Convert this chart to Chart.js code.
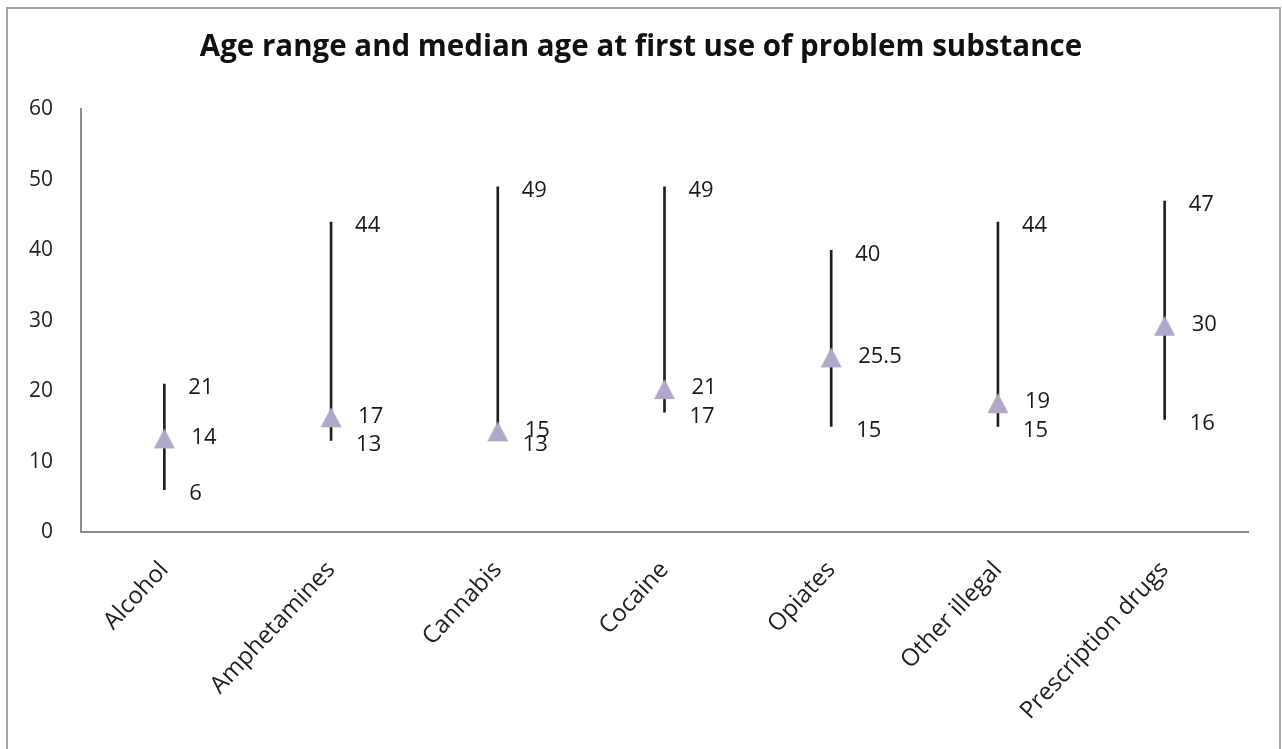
<!DOCTYPE html>
<html>
<head>
<meta charset="utf-8">
<script src="https://cdn.jsdelivr.net/npm/chart.js@4.4.1/dist/chart.umd.min.js"></script>
<style>
  html, body { margin: 0; padding: 0; background: #fff; }
  #frame { position: absolute; left: 6px; top: 7px; width: 1271px; height: 760px; border: 2px solid #a6a6a6; }
  #wrap { position: absolute; left: 0; top: 0; width: 1282px; height: 749px; }
</style>
</head>
<body>
<div id="frame"></div>
<div id="wrap"><canvas id="ageChart" width="1282" height="749"></canvas></div>
<script>
const substances = ['Alcohol', 'Amphetamines', 'Cannabis', 'Cocaine', 'Opiates', 'Other illegal', 'Prescription drugs'];
const minAge = [6, 13, 13, 17, 15, 15, 16];
const maxAge = [21, 44, 49, 49, 40, 44, 47];
const medianAge = [14, 17, 15, 21, 25.5, 19, 30];
const yTicks = [0, 10, 20, 30, 40, 50, 60];

const textFont = '"Open Sans", "Noto Sans", sans-serif';

// Excel-style triangle marker, sits a little below its value
function makeTriangle() {
  const c = document.createElement('canvas');
  c.width = 24;
  c.height = 48;
  const g = c.getContext('2d');
  g.fillStyle = '#b1a7c9';
  g.beginPath();
  g.moveTo(12, 19);
  g.lineTo(22.5, 39);
  g.lineTo(1.5, 39);
  g.closePath();
  g.fill();
  return c;
}

// value labels to the right of each range line
const rangeLabels = {
  id: 'rangeLabels',
  afterDatasetsDraw(chart) {
    const { ctx, scales: { x, y } } = chart;
    ctx.save();
    ctx.font = '22px ' + textFont;
    ctx.fillStyle = '#1a1a1a';
    ctx.textBaseline = 'middle';
    substances.forEach((s, i) => {
      const px = x.getPixelForValue(i);
      [[maxAge[i], 24], [minAge[i], 25], [medianAge[i], 27]].forEach(([v, dx]) => {
        ctx.fillText(String(v), px + dx, y.getPixelForValue(v) + 4);
      });
    });
    ctx.restore();
  }
};

new Chart(document.getElementById('ageChart'), {
  type: 'bar',
  data: {
    labels: substances,
    datasets: [
      {
        type: 'line',
        label: 'Median',
        data: medianAge,
        showLine: false,
        pointStyle: makeTriangle(),
        pointRadius: 12,
        pointHoverRadius: 12
      },
      {
        label: 'Range',
        data: substances.map((s, i) => [minAge[i], maxAge[i]]),
        backgroundColor: '#1f1f1f',
        borderWidth: 0,
        barThickness: 2
      }
    ]
  },
  options: {
    responsive: false,
    animation: false,
    devicePixelRatio: 1,
    layout: { padding: 0 },
    plugins: {
      legend: { display: false },
      tooltip: { enabled: false },
      title: {
        display: true,
        text: 'Age range and median age at first use of problem substance',
        color: '#111',
        font: { family: textFont, size: 29.5, weight: 'bold' },
        padding: { top: 30, bottom: 44 }
      }
    },
    scales: {
      x: {
        grid: { display: false, drawTicks: false },
        border: { color: '#8c8c8c', width: 2 },
        ticks: {
          autoSkip: false,
          maxRotation: 47,
          minRotation: 47,
          padding: 24,
          color: '#222',
          font: { family: textFont, size: 24 }
        },
        afterFit(scale) { scale.height = 217; }
      },
      y: {
        min: 0,
        max: 60,
        grid: { display: false, drawTicks: false },
        border: { color: '#8c8c8c', width: 2 },
        ticks: {
          crossAlign: 'near',
          padding: 28,
          color: '#222',
          font: { family: textFont, size: 21 }
        },
        afterBuildTicks(scale) { scale.ticks = yTicks.map(v => ({ value: v })); },
        afterFit(scale) { scale.width = 81; }
      },
      // empty right-hand spacer so the plot ends short of the frame
      spacer: {
        position: 'right',
        min: 0,
        max: 60,
        grid: { display: false, drawTicks: false },
        border: { display: false },
        ticks: { display: false },
        afterFit(scale) { scale.width = 34; }
      }
    }
  },
  plugins: [rangeLabels]
});
</script>
</body>
</html>
